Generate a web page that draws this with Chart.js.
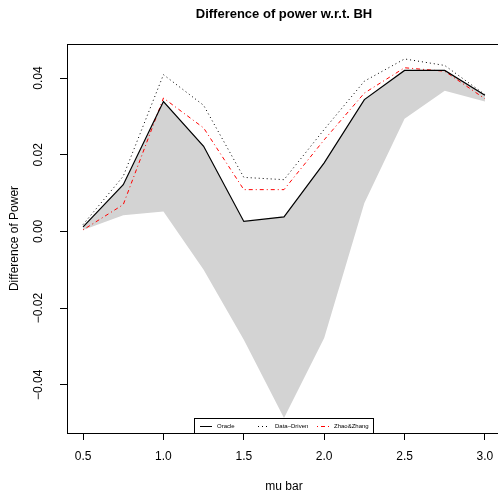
<!DOCTYPE html>
<html>
<head>
<meta charset="utf-8">
<script src="https://cdn.jsdelivr.net/npm/chart.js@4/dist/chart.umd.min.js"></script>
<style>
  body { margin: 0; overflow: hidden; background: #fff; }
  #chart { display: block; }
</style>
</head>
<body>
<canvas id="chart" width="504" height="492" style="width:504px;height:492px"></canvas>
<script>
// mu bar values on the x axis
const muBar = [0.5, 0.75, 1.0, 1.25, 1.5, 1.75, 2.0, 2.25, 2.5, 2.75, 3.0];

// series
const oracle = [0.0012, 0.0122, 0.0339, 0.0222, 0.0026, 0.0038, 0.0179, 0.0344, 0.0420, 0.0420, 0.0355];
const dataDriven = [0.0018, 0.0144, 0.0409, 0.0329, 0.0141, 0.0135, 0.0266, 0.0392, 0.0450, 0.0433, 0.0357];
const zhaoZhang = [0.0004, 0.0070, 0.0348, 0.0270, 0.0109, 0.0109, 0.0239, 0.0361, 0.0427, 0.0418, 0.0346];

// grey band: lower edge, upper edge follows the oracle curve
const bandLower = [0.0004, 0.0042, 0.0052, -0.0100, -0.0283, -0.0487, -0.0278, 0.0074, 0.0294, 0.0367, 0.0339];
const bandUpper = oracle;

// tick labels
const xTicks = [0.5, 1.0, 1.5, 2.0, 2.5, 3.0];
const yTicks = [-0.04, -0.02, 0.00, 0.02, 0.04];

const FONT = '"Liberation Sans", Arial, Helvetica, sans-serif';

function pts(ys) {
  return muBar.map((x, i) => ({ x: x, y: ys[i] }));
}

// draws box, tick labels, titles and legend like base R graphics
const rDecor = {
  id: 'rDecor',
  afterDraw(chart) {
    const ctx = chart.ctx;
    const area = chart.chartArea;
    const xs = chart.scales.x;
    const ys = chart.scales.y;
    ctx.save();

    // plot box
    ctx.strokeStyle = '#000';
    ctx.lineWidth = 1;
    ctx.strokeRect(area.left + 0.5, area.top + 0.5, area.right - area.left, area.bottom - area.top);

    ctx.fillStyle = '#000';
    ctx.font = '12px ' + FONT;
    ctx.textAlign = 'center';
    ctx.textBaseline = 'middle';

    // x tick labels
    xTicks.forEach(v => {
      ctx.fillText(v.toFixed(1), xs.getPixelForValue(v), 457);
    });

    // y tick labels, rotated
    yTicks.forEach(v => {
      const py = ys.getPixelForValue(v);
      ctx.save();
      ctx.translate(39, py);
      ctx.rotate(-Math.PI / 2);
      ctx.fillText(v.toFixed(2).replace('-', '\u2212'), 0, 0);
      ctx.restore();
    });

    // axis titles
    const midX = (area.left + area.right) / 2;
    ctx.fillText('mu bar', midX, 487);
    ctx.save();
    ctx.translate(15, (area.top + area.bottom) / 2);
    ctx.rotate(-Math.PI / 2);
    ctx.fillText('Difference of Power', 0, 0);
    ctx.restore();

    // main title
    ctx.font = 'bold 13px ' + FONT;
    ctx.fillText('Difference of power w.r.t. BH', midX, 14);

    // legend
    const lx = 194, ly = 418, lw = 179, lh = 15;
    ctx.fillStyle = '#fff';
    ctx.fillRect(lx, ly, lw, lh);
    ctx.strokeStyle = '#000';
    ctx.strokeRect(lx + 0.5, ly + 0.5, lw, lh);
    const items = [
      { label: 'Oracle', color: '#000', dash: [], x1: 200, x2: 212, tx: 217 },
      { label: 'Data\u2013Driven', color: '#000', dash: [1, 3], x1: 258, x2: 270, tx: 275 },
      { label: 'Zhao&Zhang', color: '#ff0000', dash: [1, 3, 4, 3], x1: 317, x2: 329, tx: 334 }
    ];
    const cy = ly + 8;
    ctx.font = '6px ' + FONT;
    ctx.textAlign = 'left';
    items.forEach(it => {
      ctx.strokeStyle = it.color;
      ctx.setLineDash(it.dash);
      ctx.beginPath();
      ctx.moveTo(it.x1, cy + 0.5);
      ctx.lineTo(it.x2, cy + 0.5);
      ctx.stroke();
      ctx.setLineDash([]);
      ctx.fillStyle = '#000';
      ctx.fillText(it.label, it.tx, cy);
    });

    ctx.restore();
  }
};

const ctx = document.getElementById('chart').getContext('2d');
new Chart(ctx, {
  type: 'line',
  data: {
    datasets: [
      {
        label: 'Oracle',
        data: pts(oracle),
        borderColor: '#000',
        borderWidth: 1.2,
        pointRadius: 0,
        fill: false,
        tension: 0
      },
      {
        label: 'Data-Driven',
        data: pts(dataDriven),
        borderColor: '#000',
        borderWidth: 1,
        borderDash: [1, 3],
        pointRadius: 0,
        fill: false,
        tension: 0
      },
      {
        label: 'Zhao&Zhang',
        data: pts(zhaoZhang),
        borderColor: '#ff0000',
        borderWidth: 1,
        borderDash: [1, 3, 4, 3],
        pointRadius: 0,
        fill: false,
        tension: 0
      },
      {
        label: 'band lower',
        data: pts(bandLower),
        borderWidth: 0,
        borderColor: 'rgba(0,0,0,0)',
        pointRadius: 0,
        fill: false,
        tension: 0
      },
      {
        label: 'band upper',
        data: pts(bandUpper),
        borderWidth: 0,
        borderColor: 'rgba(0,0,0,0)',
        backgroundColor: '#d3d3d3',
        pointRadius: 0,
        fill: 3,
        tension: 0
      }
    ]
  },
  options: {
    responsive: false,
    animation: false,
    layout: { padding: { left: 60, top: 44, right: 3, bottom: 52 } },
    plugins: {
      legend: { display: false },
      tooltip: { enabled: false },
      filler: { propagate: false }
    },
    scales: {
      x: {
        type: 'linear',
        min: 0.4,
        max: 3.1,
        afterBuildTicks: axis => { axis.ticks = xTicks.map(v => ({ value: v })); },
        ticks: { display: false },
        grid: { drawOnChartArea: false, drawTicks: true, tickLength: 7, color: '#000' },
        border: { display: false }
      },
      y: {
        type: 'linear',
        min: -0.0526,
        max: 0.0489,
        afterBuildTicks: axis => { axis.ticks = yTicks.map(v => ({ value: v })); },
        ticks: { display: false },
        grid: { drawOnChartArea: false, drawTicks: true, tickLength: 7, color: '#000' },
        border: { display: false }
      }
    }
  },
  plugins: [rDecor]
});
</script>
</body>
</html>
